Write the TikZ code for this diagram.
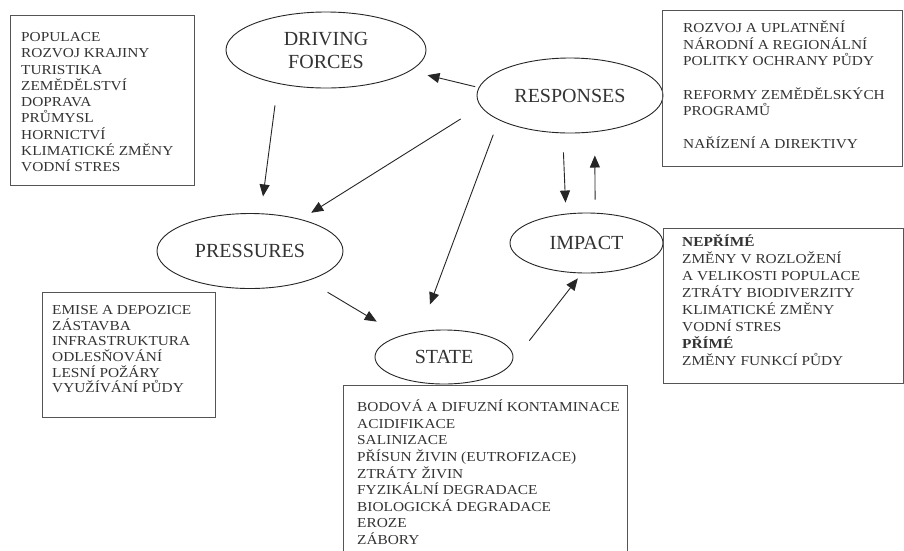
\documentclass[tikz,border=0pt]{standalone}
\usepackage{fontspec}
\setmainfont{Liberation Serif}
\newfontfamily\listfont[FakeStretch=1.12]{Liberation Serif}
\usetikzlibrary{arrows.meta,shapes.geometric,positioning}
\definecolor{inkgray}{HTML}{333333}
\definecolor{framegray}{HTML}{555555}
\tikzset{
  stage/.style={ellipse, draw=black!85, line width=0.9pt, inner sep=0pt, text=inkgray,
    align=center, font=\fontsize{20}{23}\selectfont},
  listbox/.style={draw=framegray, line width=1.2pt, anchor=north west, inner sep=0pt},
  listtext/.style={anchor=north west, inner sep=0pt, align=left, text=inkgray,
    font=\listfont\fontsize{13.7}{#1}\selectfont},
  listtext/.default=16.6,
  flow/.style={-{Triangle[length=12pt,width=10pt]}, line width=0.9pt, draw=black!85},
}
\begin{document}
\begin{tikzpicture}[x=1pt,y=-1pt]
	\clip (0,0) rectangle (904,550);
	\fill[white] (0,0) rectangle (904,550);

	% DPSIR stages
	\node[stage, minimum width=200pt, minimum height=76pt] (df) at (326,50) {DRIVING\\FORCES};
	\node[stage, minimum width=186pt, minimum height=75pt] (rs) at (570,95.5) {RESPONSES};
	\node[stage, minimum width=186pt, minimum height=75pt] (pr) at (250,251) {PRESSURES};
	\node[stage, minimum width=153pt, minimum height=60pt] (im) at (586.5,243) {IMPACT};
	\node[stage, minimum width=138pt, minimum height=54pt] (st) at (444,357) {STATE};

	% boxes
	\node[listbox, minimum width=184pt, minimum height=170pt] (dfbox) at (10,15) {};
	\node[listbox, minimum width=240pt, minimum height=156pt] (rsbox) at (662,10) {};
	\node[listbox, minimum width=240pt, minimum height=155pt] (imbox) at (663,228) {};
	\node[listbox, minimum width=173pt, minimum height=125pt] (prbox) at (42,292) {};
	\node[listbox, minimum width=284pt, minimum height=200pt] (stbox) at (343,385) {};

	\node[listtext=16.25, below right=12.5pt and 11pt of dfbox.north west] (dflist)
		{\rule{0pt}{14pt}POPULACE\\ ROZVOJ KRAJINY\\ TURISTIKA\\ ZEMĚDĚLSTVÍ\\ DOPRAVA\\
		 PRŮMYSL\\ HORNICTVÍ\\ KLIMATICKÉ ZMĚNY\\ VODNÍ STRES};
	\node[listtext, below right=8.5pt and 21pt of rsbox.north west] (rslist)
		{\rule{0pt}{14pt}ROZVOJ A UPLATNĚNÍ\\ NÁRODNÍ A REGIONÁLNÍ\\ POLITKY OCHRANY PŮDY\\[16.6pt]
		 REFORMY ZEMĚDĚLSKÝCH\\ PROGRAMŮ\\[16.6pt] NAŘÍZENÍ A DIREKTIVY};
	\node[listtext=17, below right=4.5pt and 19pt of imbox.north west] (imlist)
		{\rule{0pt}{14pt}\textbf{NEPŘÍMÉ}\\ ZMĚNY V ROZLOŽENÍ\\ A VELIKOSTI POPULACE\\ ZTRÁTY BIODIVERZITY\\
		 KLIMATICKÉ ZMĚNY\\ VODNÍ STRES\\ \textbf{PŘÍMÉ}\\ ZMĚNY FUNKCÍ PŮDY};
	\node[listtext=15.6, below right=8.5pt and 10pt of prbox.north west] (prlist)
		{\rule{0pt}{14pt}EMISE A DEPOZICE\\ ZÁSTAVBA\\ INFRASTRUKTURA\\ ODLESŇOVÁNÍ\\ LESNÍ POŽÁRY\\ VYUŽÍVÁNÍ PŮDY};
	\node[listtext, below right=12.5pt and 14pt of stbox.north west] (stlist)
		{\rule{0pt}{14pt}BODOVÁ A DIFUZNÍ KONTAMINACE\\ ACIDIFIKACE\\ SALINIZACE\\ PŘÍSUN ŽIVIN (EUTROFIZACE)\\
		 ZTRÁTY ŽIVIN\\ FYZIKÁLNÍ DEGRADACE\\ BIOLOGICKÁ DEGRADACE\\ EROZE\\ ZÁBORY};

	% arrows
	\draw[flow, shorten <=21.9pt, shorten >=17pt] (df.215.4) -- (pr.74.1);
	\draw[flow, shorten <=3.6pt, shorten >=17.8pt] (rs.175.9) -- (df.346.6);
	\draw[flow, shorten <=23.5pt, shorten >=12.1pt] (rs.187.9) -- (pr.32.5);
	\draw[flow, shorten <=15.6pt, shorten >=28.6pt] (rs.199.7) -- (st.133.7);
	\draw[flow, shorten <=19.1pt, shorten >=11.1pt] (rs.259.5) -- (im.125.8);
	\draw[flow, shorten <=13.2pt, shorten >=23.4pt] (im.74.1) -- (rs.304.7);
	\draw[flow, shorten <=22.5pt, shorten >=27.4pt] (pr.333) -- (st.154.4);
	\draw[flow, shorten <=32.4pt, shorten >=6.3pt] (st.352.8) -- (im.261.3);
\end{tikzpicture}
\end{document}
